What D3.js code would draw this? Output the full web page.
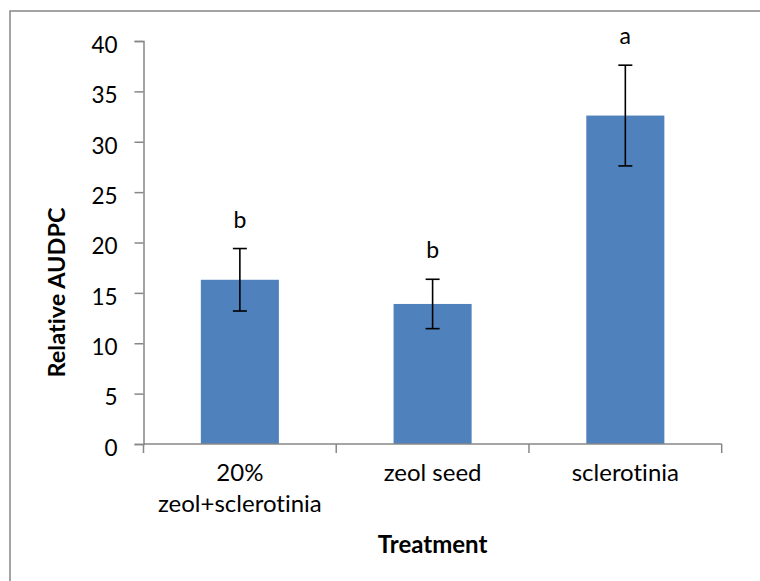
<!DOCTYPE html>
<html>
<head>
<meta charset="utf-8">
<script src="https://cdn.jsdelivr.net/npm/d3@7"></script>
<style>
  html, body { margin: 0; padding: 0; background: #fff; }
  svg { display: block; }
  text { font-family: Lato, "Open Sans", sans-serif; fill: #000; font-variant-ligatures: none; font-feature-settings: "liga" 0; }
</style>
</head>
<body>
<script>
// Treatments and their relative AUDPC means with error-bar half widths
const treatments = ["20%\nzeol+sclerotinia", "zeol seed", "sclerotinia"];
const means = [16.3, 13.9, 32.6];
const errors = [3.1, 2.45, 5.0];
const letters = ["b", "b", "a"];
const yTicks = [0, 5, 10, 15, 20, 25, 30, 35, 40];

const W = 760, H = 581;
const svg = d3.select("body").append("svg").attr("width", W).attr("height", H);

// chart frame
svg.append("rect")
  .attr("x", 10).attr("y", 11)
  .attr("width", 800).attr("height", 700)
  .attr("fill", "none").attr("stroke", "#878787").attr("stroke-width", 1.5);

const plot = { left: 143.5, right: 721.7, top: 41, bottom: 444 };
const axisColor = "#878787";

const x = d3.scaleBand()
  .domain(treatments)
  .range([plot.left, plot.right])
  .paddingInner(0.595)
  .paddingOuter(0.2975);

const y = d3.scaleLinear().domain([0, 40]).range([plot.bottom, plot.top]);

// bars
svg.append("g").selectAll("rect")
  .data(treatments)
  .join("rect")
  .attr("x", d => x(d))
  .attr("width", x.bandwidth())
  .attr("y", (d, i) => y(means[i]))
  .attr("height", (d, i) => y(0) - y(means[i]))
  .attr("fill", "#4F81BD");

// y axis
const yAxis = svg.append("g")
  .attr("transform", `translate(${plot.left},0)`)
  .call(d3.axisLeft(y).tickValues(yTicks).tickSize(9).tickPadding(17));
yAxis.select(".domain").attr("stroke", axisColor).attr("stroke-width", 1.5);
yAxis.selectAll(".tick line").attr("stroke", axisColor).attr("stroke-width", 1.5);
yAxis.selectAll(".tick text")
  .style("font-size", "22.5px").style("font-family", "Lato, sans-serif")
  .attr("dy", "0.5em").attr("fill", "#000");

// x axis: baseline with separators between categories
const xg = svg.append("g").attr("transform", `translate(0,${plot.bottom})`);
xg.append("line")
  .attr("x1", plot.left).attr("x2", plot.right)
  .attr("stroke", axisColor).attr("stroke-width", 1.5);
const step = x.step();
const bounds = d3.range(treatments.length + 1).map(i => plot.left + i * step);
xg.selectAll("line.sep")
  .data(bounds)
  .join("line")
  .attr("class", "sep")
  .attr("x1", d => d).attr("x2", d => d)
  .attr("y1", 0).attr("y2", 9)
  .attr("stroke", axisColor).attr("stroke-width", 1.5);

// category labels (multi-line)
xg.selectAll("text.cat")
  .data(treatments)
  .join("text")
  .attr("class", "cat")
  .attr("text-anchor", "middle")
  .style("font-size", "24px")
  .each(function (d) {
    const t = d3.select(this);
    d.split("\n").forEach((line, i) => {
      t.append("tspan")
        .attr("x", x(d) + x.bandwidth() / 2)
        .attr("y", 37 + i * 31)
        .text(line);
    });
  });

// error bars
const eb = svg.append("g").attr("stroke", "#000").attr("stroke-width", 1.6);
treatments.forEach((d, i) => {
  const cx = x(d) + x.bandwidth() / 2;
  const hi = y(means[i] + errors[i]);
  const lo = y(means[i] - errors[i]);
  eb.append("line").attr("x1", cx).attr("x2", cx).attr("y1", hi).attr("y2", lo);
  eb.append("line").attr("x1", cx - 7).attr("x2", cx + 7).attr("y1", hi).attr("y2", hi);
  eb.append("line").attr("x1", cx - 7).attr("x2", cx + 7).attr("y1", lo).attr("y2", lo);
});

// significance letters
svg.append("g").selectAll("text")
  .data(treatments)
  .join("text")
  .attr("x", d => x(d) + x.bandwidth() / 2)
  .attr("y", (d, i) => y(means[i] + errors[i]) - 21)
  .attr("text-anchor", "middle")
  .style("font-size", "23px")
  .text((d, i) => letters[i]);

// axis titles
svg.append("text")
  .attr("x", (plot.left + plot.right) / 2)
  .attr("y", 553)
  .attr("text-anchor", "middle")
  .style("font-size", "24px").style("font-weight", "bold")
  .text("Treatment");

svg.append("text")
  .attr("transform", "translate(57,292.5) rotate(-90)")
  .attr("text-anchor", "middle")
  .attr("dy", "0.36em")
  .style("font-size", "23.5px").style("font-weight", "bold")
  .text("Relative AUDPC");
</script>
</body>
</html>
